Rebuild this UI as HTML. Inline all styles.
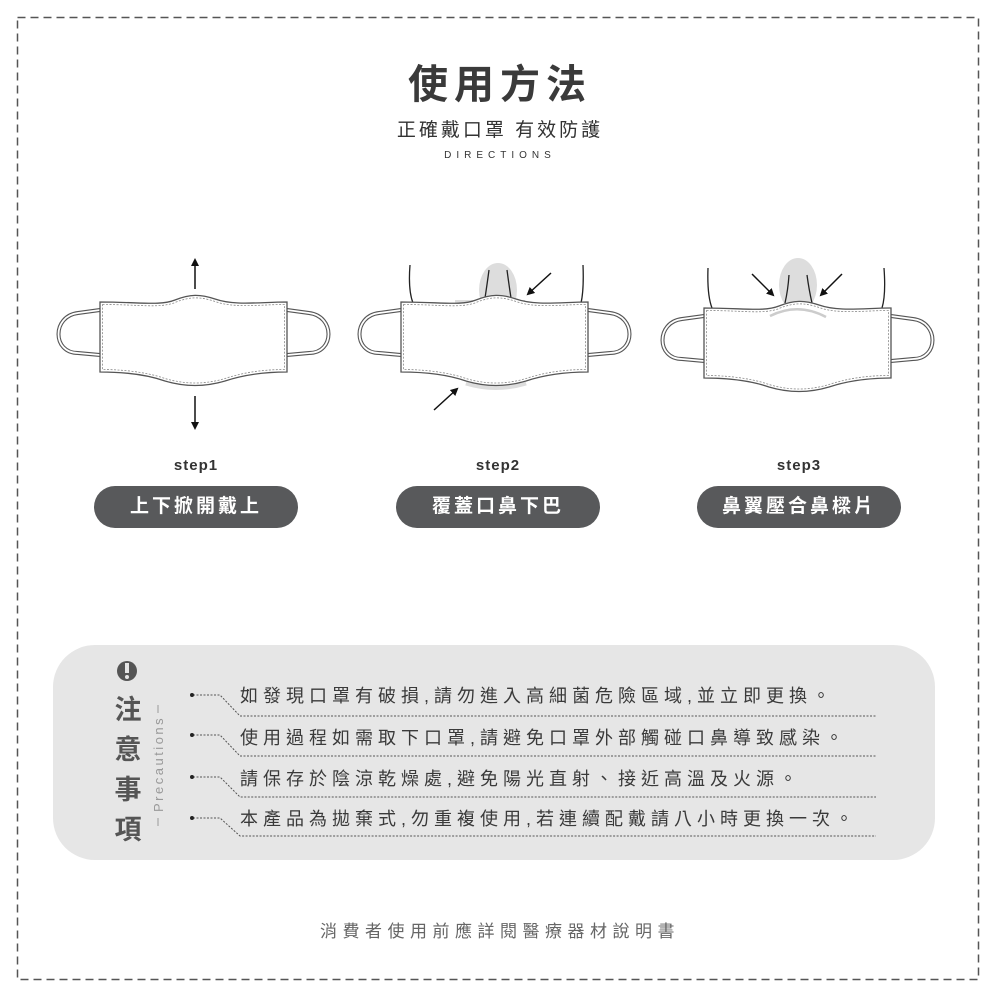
<!DOCTYPE html>
<html><head><meta charset="utf-8"><style>
html,body{margin:0;padding:0;background:#fff;}
body{width:1000px;height:1000px;position:relative;overflow:hidden;font-family:"Liberation Sans","Noto Sans CJK TC",sans-serif;color:#444;}
.abs{position:absolute;}
.pill{position:absolute;top:486px;width:204px;height:42px;border-radius:21px;background:#58595b;color:#fff;font-weight:bold;font-size:19px;line-height:42px;text-align:center;letter-spacing:3px;}
.step{position:absolute;top:457px;width:204px;text-align:center;font-weight:bold;font-size:15px;color:#333;letter-spacing:1px;}
.line{position:absolute;left:240px;font-size:18px;letter-spacing:5px;color:#3a3a3a;white-space:nowrap;}
</style></head><body>
<svg class="abs" style="left:0;top:0" width="1000" height="1000">
<rect x="17.5" y="17.5" width="961" height="962" fill="none" stroke="#555" stroke-width="1.5" stroke-dasharray="8,5"/>
<defs>
<g id="mask">
<path d="M100,310 L78,313 C52,316 52,353 78,353 L100,355" fill="none" stroke="#555" stroke-width="4"/>
<path d="M100,310 L78,313 C52,316 52,353 78,353 L100,355" fill="none" stroke="#fff" stroke-width="1.8"/>
<path d="M287,310 L309,313 C335,316 335,353 309,353 L287,355" fill="none" stroke="#555" stroke-width="4"/>
<path d="M287,310 L309,313 C335,316 335,353 309,353 L287,355" fill="none" stroke="#fff" stroke-width="1.8"/>
<path d="M100,302 C140,302 160,306 175,300 C190,294 200,294 215,299 C235,306 260,302 287,302 L287,372 C260,372 240,376 225,381 C205,387 185,387 165,381 C145,374 120,372 100,372 Z" fill="#fff" stroke="#555" stroke-width="1.3"/>
<path d="M102.5,304.5 C140,304.5 160,308.5 175,302.5 C190,296.5 200,296.5 215,301.5 C235,308.5 260,304.5 284.5,304.5 L284.5,369.5 C260,369.5 240,373.5 225,378.5 C205,384.5 185,384.5 165,378.5 C145,371.5 120,369.5 102.5,369.5 Z" fill="none" stroke="#888" stroke-width="0.8" stroke-dasharray="2,1.5"/>
</g>
<marker id="ah" markerWidth="8" markerHeight="8" refX="6" refY="4" orient="auto" markerUnits="userSpaceOnUse"><path d="M0,0 L8,4 L0,8 Z" fill="#111"/></marker>
</defs>
<use href="#mask"/>
<line x1="195" y1="289" x2="195" y2="260" stroke="#111" stroke-width="1.5" marker-end="url(#ah)"/>
<line x1="195" y1="396" x2="195" y2="428" stroke="#111" stroke-width="1.5" marker-end="url(#ah)"/>
<ellipse cx="498" cy="290" rx="19" ry="27" fill="#ddd"/>
<path d="M455,305 Q498,318 525,305 L525,300 L455,300Z" fill="#ddd"/>
<path d="M410,265 Q408,290 413,303 M583,265 Q584,290 581,303 M489,270 Q487,285 485,298 M507,270 Q509,285 511,298" fill="none" stroke="#222" stroke-width="1.3"/>
<path d="M466,383 C486,389 506,389 526,383" fill="none" stroke="#ddd" stroke-width="5"/>
<use href="#mask" transform="translate(301,0)"/>
<line x1="551" y1="273" x2="528" y2="294" stroke="#111" stroke-width="1.5" marker-end="url(#ah)"/>
<line x1="434" y1="410" x2="457" y2="389" stroke="#111" stroke-width="1.5" marker-end="url(#ah)"/>
<ellipse cx="798" cy="285" rx="19" ry="27" fill="#ddd"/>
<path d="M708,268 Q707,295 712,308 M884,268 Q886,295 882,308 M789,275 Q788,290 785,303 M807,275 Q809,290 812,303" fill="none" stroke="#222" stroke-width="1.3"/>
<use href="#mask" transform="translate(604,6)"/>
<path d="M770,316 Q798,302 826,317" fill="none" stroke="#ccc" stroke-width="2.5"/>
<line x1="752" y1="274" x2="773" y2="295" stroke="#111" stroke-width="1.5" marker-end="url(#ah)"/>
<line x1="842" y1="274" x2="821" y2="295" stroke="#111" stroke-width="1.5" marker-end="url(#ah)"/>
<rect x="53" y="645" width="882" height="215" rx="42" fill="#e6e6e6"/>
<circle cx="127" cy="671" r="10" fill="#555"/>
<rect x="125" y="663" width="4" height="10" fill="#e6e6e6"/>
<circle cx="127" cy="677" r="2" fill="#e6e6e6"/>
<line x1="158" y1="705" x2="158" y2="713" stroke="#999" stroke-width="1"/>
<line x1="158" y1="818" x2="158" y2="826" stroke="#999" stroke-width="1"/>
<text x="0" y="0" transform="translate(163,812) rotate(-90)" font-family="Liberation Sans,sans-serif" font-size="13" letter-spacing="2.5" fill="#999">Precautions</text>
<g fill="none" stroke="#555" stroke-width="1" stroke-dasharray="2,1.5">
<path d="M193,695 H220 L240,716 H876"/>
<path d="M193,735 H220 L240,756 H876"/>
<path d="M193,777 H220 L240,797 H876"/>
<path d="M193,818 H220 L240,836 H876"/>
</g>
<g fill="#222"><circle cx="192" cy="695" r="2"/><circle cx="192" cy="735" r="2"/><circle cx="192" cy="777" r="2"/><circle cx="192" cy="818" r="2"/></g>
</svg>

<div class="abs" style="left:0;width:1000px;top:52px;text-align:center;font-size:40px;font-weight:bold;letter-spacing:6px;color:#3a3a3a;">使用方法</div>
<div class="abs" style="left:0;width:1000px;top:115px;text-align:center;font-size:19px;letter-spacing:3px;color:#333;">正確戴口罩 有效防護</div>
<div class="abs" style="left:0;width:1000px;top:150px;text-align:center;font-size:10px;letter-spacing:5px;color:#333;">DIRECTIONS</div>

<div class="step" style="left:94px">step1</div>
<div class="step" style="left:396px">step2</div>
<div class="step" style="left:697px">step3</div>
<div class="pill" style="left:94px">上下掀開戴上</div>
<div class="pill" style="left:396px">覆蓋口鼻下巴</div>
<div class="pill" style="left:697px">鼻翼壓合鼻樑片</div>

<div class="abs" style="left:112px;top:690px;width:32px;font-size:27px;font-weight:bold;line-height:40px;color:#555;text-align:center;">注<br>意<br>事<br>項</div>

<div class="line" style="top:682px">如發現口罩有破損,請勿進入高細菌危險區域,並立即更換。</div>
<div class="line" style="top:724px">使用過程如需取下口罩,請避免口罩外部觸碰口鼻導致感染。</div>
<div class="line" style="top:765px">請保存於陰涼乾燥處,避免陽光直射、接近高溫及火源。</div>
<div class="line" style="top:805px">本產品為拋棄式,勿重複使用,若連續配戴請八小時更換一次。</div>

<div class="abs" style="left:0;width:1000px;top:917px;text-align:center;font-size:17px;letter-spacing:5.5px;color:#666;">消費者使用前應詳閱醫療器材說明書</div>
</body></html>
